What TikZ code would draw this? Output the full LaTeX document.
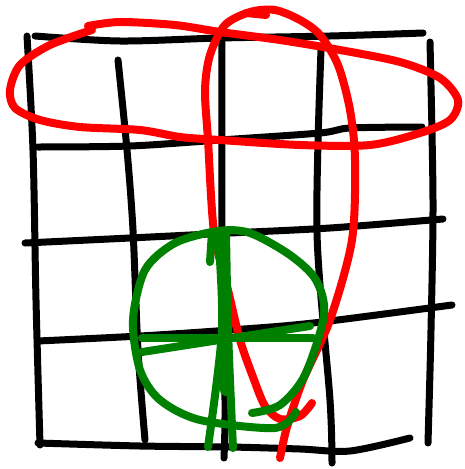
\documentclass[tikz,border=0pt]{standalone}
\usepackage{tikz}

\begin{document}
\begin{tikzpicture}[
  x=1pt, y=-1pt,
  pen/.style={line width=7pt, line cap=round, line join=round},
  gridline/.style={pen, black},
  redloop/.style={pen, line width=8pt, red},
  greenmark/.style={pen, line width=8pt, green!50!black},
]
\useasboundingbox (0,0) rectangle (464,469);

% Grid, horizontal strokes
\draw[gridline] plot[smooth] coordinates {(35,36) (120,41) (220,38) (330,36) (423,33)};
\draw[gridline] plot[smooth] coordinates {(38,147) (130,146) (220,140) (320,133) (350,128) (422,127)};
\draw[gridline] plot[smooth] coordinates {(25,243) (130,238) (230,233) (330,228) (443,219)};
\draw[gridline] plot[smooth] coordinates {(38,341) (140,336) (230,330) (313,323) (452,305)};
\draw[gridline] plot[smooth] coordinates {(38,443) (140,446) (230,447) (300,449) (350,451) (410,438)};

% Grid, vertical strokes
\draw[gridline] plot[smooth] coordinates {(27,36) (33,150) (36,300) (40,445)};
\draw[gridline] plot[smooth] coordinates {(118,60) (127,150) (133,230) (138,350) (145,440)};
\draw[gridline] plot[smooth] coordinates {(222,40) (222,240) (225,400) (224,458)};
\draw[gridline] plot[smooth] coordinates {(321,50) (317,233) (330,400) (332,463)};
\draw[gridline] plot[smooth] coordinates {(430,42) (433,200) (431,330) (428,443)};

% Red loop across the top row
\draw[redloop] plot[smooth] coordinates {(88,26) (120,22) (175,25) (220,32) (280,40)
  (340,50) (400,62) (440,78) (458,100) (450,120) (420,133) (370,145) (300,145)
  (220,140) (180,137) (140,130) (80,127) (40,120) (15,108) (10,90) (20,65)
  (50,45) (92,30)};

% Red loop down the middle
\draw[redloop] plot[smooth] coordinates {(312,403) (300,416) (280,419) (265,406)
  (253,377) (240,340) (228,290) (214,232) (208,140) (205,90) (210,55) (225,25)
  (250,12) (275,10) (300,20) (320,35) (338,65) (350,110) (355,160) (352,240)
  (330,320) (303,380) (287,427) (280,458)};
\draw[redloop] (246,13) -- (266,15);

% Green circle
\draw[greenmark] plot[smooth] coordinates {(252,413) (280,405) (305,375) (324,315)
  (316,280) (290,255) (250,233) (218,231) (175,243) (145,270) (133,320)
  (140,370) (160,400) (200,420) (275,428) (296,412)};

% Green cross
\draw[greenmark] (142,338) -- (313,338);
\draw[greenmark] (142,352) -- (310,326);
\draw[greenmark] (210,262) -- (212,232);
\draw[greenmark] plot[smooth] coordinates {(218,232) (222,330) (208,447)};
\draw[greenmark] plot[smooth] coordinates {(226,232) (228,330) (233,448)};
\draw[greenmark, line width=12pt] (224,285) -- (226,390);
\end{tikzpicture}
\end{document}
